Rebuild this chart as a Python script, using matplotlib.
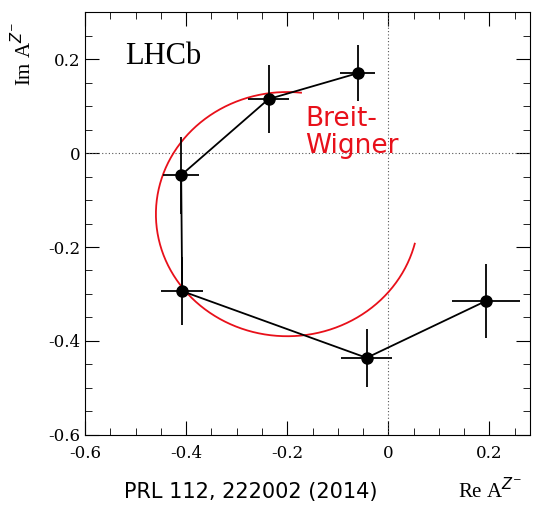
import numpy as np
import matplotlib.pyplot as plt

re_vals = [-0.061, -0.237, -0.410, -0.408, -0.043, 0.193]
im_vals = [0.170, 0.115, -0.047, -0.294, -0.436, -0.315]
re_err = [0.035, 0.040, 0.035, 0.042, 0.050, 0.067]
im_err = [0.060, 0.072, 0.082, 0.072, 0.062, 0.078]

bw_center = (-0.20, -0.13)
bw_radius = 0.26
bw_theta = (84, 346)

fig = plt.figure(figsize=(5.39, 5.08), dpi=100)
ax = fig.add_axes([0.158, 0.144, 0.825, 0.832])
ax.axhline(0, color='#555555', ls=(0, (1, 2)), lw=0.8)
ax.axvline(0, color='#555555', ls=(0, (1, 2)), lw=0.8)
th = np.radians(np.linspace(*bw_theta, 300))
ax.plot(bw_center[0] + bw_radius*np.cos(th), bw_center[1] + bw_radius*np.sin(th), color='#e8101a', lw=1.3)
ax.errorbar(re_vals, im_vals, xerr=re_err, yerr=im_err, fmt='o-', color='black',
            ms=8, lw=1.3, elinewidth=1.3, capsize=0)
ax.set_xlim(-0.6, 0.28)
ax.set_ylim(-0.6, 0.30)
ax.set_xticks([-0.6, -0.4, -0.2, 0, 0.2])
ax.set_xticklabels(['-0.6', '-0.4', '-0.2', '0', '0.2'])
ax.set_yticks([-0.6, -0.4, -0.2, 0, 0.2])
ax.set_yticklabels(['-0.6', '-0.4', '-0.2', '0', '0.2'])
ax.set_xticks(np.arange(-0.6, 0.28, 0.05), minor=True)
ax.set_yticks(np.arange(-0.6, 0.30, 0.05), minor=True)
ax.tick_params(direction='in', top=True, right=True, which='both', labelsize=12, length=10)
ax.tick_params(axis='x', pad=7)
ax.tick_params(which='minor', length=5)
for lab in ax.get_xticklabels() + ax.get_yticklabels():
    lab.set_family('DejaVu Serif')
ax.text(0.09, 0.93, 'LHCb', transform=ax.transAxes, family='Liberation Serif', fontsize=22, va='top')
ax.text(-0.165, 0.0, 'Breit-\nWigner', color='#e8101a', fontsize=19, linespacing=1.05)
fig.text(0.23, 0.02, 'PRL 112, 222002 (2014)', fontsize=15)
fig.text(0.85, 0.02, r'Re A$^{Z^{-}}$', family='Liberation Serif', fontsize=15)
fig.text(0.02, 0.84, r'Im A$^{Z^{-}}$', family='Liberation Serif', fontsize=15, rotation=90)
fig.savefig('out.png')
